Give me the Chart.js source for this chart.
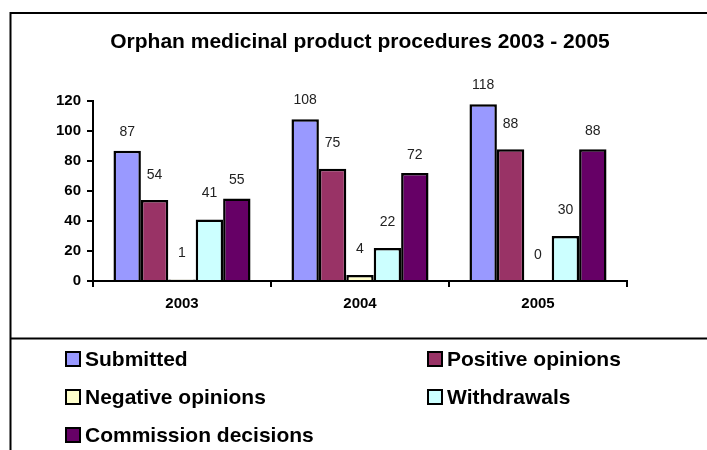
<!DOCTYPE html>
<html lang="en">
<head>
	<title>Orphan medicinal product procedures 2003 - 2005</title>
	<meta charset="utf-8">
	<script src="https://cdn.jsdelivr.net/npm/chart.js@4.4.1/dist/chart.umd.min.js"></script>
	<style type="text/css">
		body { margin: 0; background: #fff; }
		canvas { display: block; }
	</style>
</head>
<body>
<canvas id="orphan-canvas" width="707" height="450"></canvas>
<script type="text/javascript">
	// data
	var years = ["2003", "2004", "2005"];
	var submitted = [87, 108, 118];
	var positiveOpinions = [54, 75, 88];
	var negativeOpinions = [1, 4, 0];
	var withdrawals = [41, 22, 30];
	var commissionDecisions = [55, 72, 88];
	var yTicks = [0, 20, 40, 60, 80, 100, 120];

	var fontFamily = "'Liberation Sans', Arial, sans-serif";

	// bar style: black outline, no bottom edge
	function barStyle(label, data, color, labelGap) {
		return {
			label: label,
			data: data,
			backgroundColor: color,
			borderColor: "#000",
			borderWidth: 2.5,
			borderSkipped: "start",
			inflateAmount: 0,
			labelGap: labelGap
		};
	}

	// frame lines round the chart and the legend
	var framePlugin = {
		id: "frame",
		beforeDraw: function(chart) {
			var ctx = chart.ctx;
			ctx.save();
			ctx.strokeStyle = "#000";
			ctx.lineWidth = 2;
			ctx.beginPath();
			ctx.moveTo(10.5, 450);
			ctx.lineTo(10.5, 13);
			ctx.lineTo(707, 13);
			ctx.moveTo(10.5, 338.5);
			ctx.lineTo(707, 338.5);
			ctx.stroke();
			ctx.restore();
		}
	};

	// value labels above the bars
	var valueLabelPlugin = {
		id: "valueLabels",
		afterDatasetsDraw: function(chart) {
			var ctx = chart.ctx;
			ctx.save();
			ctx.font = "14px " + fontFamily;
			ctx.fillStyle = "#222";
			ctx.textAlign = "center";
			ctx.textBaseline = "middle";
			chart.data.datasets.forEach(function(ds, i) {
				chart.getDatasetMeta(i).data.forEach(function(bar, j) {
					ctx.fillText(String(ds.data[j]), bar.x, bar.y - ds.labelGap);
				});
			});
			ctx.restore();
		}
	};

	// two column legend under the chart
	var legendPlugin = {
		id: "gridLegend",
		afterDraw: function(chart) {
			var ctx = chart.ctx;
			var colX = [65, 427];
			var rowY = [359, 397, 435];
			ctx.save();
			ctx.font = "bold 21px " + fontFamily;
			ctx.textBaseline = "middle";
			ctx.textAlign = "left";
			chart.data.datasets.forEach(function(ds, i) {
				var x = colX[i % 2];
				var y = rowY[Math.floor(i / 2)];
				ctx.fillStyle = ds.backgroundColor;
				ctx.fillRect(x + 1, y - 7, 14, 14);
				ctx.strokeStyle = "#000";
				ctx.lineWidth = 2;
				ctx.strokeRect(x + 1, y - 7, 14, 14);
				ctx.fillStyle = "#000";
				ctx.fillText(ds.label, x + 20, y + 1);
			});
			ctx.restore();
		}
	};

	var barChartData = {
		labels: years,
		datasets: [
			barStyle("Submitted", submitted, "#9999FF", 19),
			barStyle("Positive opinions", positiveOpinions, "#993366", 25),
			barStyle("Negative opinions", negativeOpinions, "#FFFFCC", 26),
			barStyle("Withdrawals", withdrawals, "#CCFFFF", 26),
			barStyle("Commission decisions", commissionDecisions, "#660066", 18)
		]
	};

	var ctx = document.querySelector("#orphan-canvas").getContext("2d");
	var orphanChart = new Chart(ctx, {
		type: "bar",
		data: barChartData,
		plugins: [framePlugin, valueLabelPlugin, legendPlugin],
		options: {
			responsive: false,
			animation: false,
			devicePixelRatio: 1,
			layout: {
				padding: { left: 10, right: 80, top: 15, bottom: 112 }
			},
			datasets: {
				bar: { categoryPercentage: 0.77, barPercentage: 1.0 }
			},
			plugins: {
				legend: { display: false },
				tooltip: { enabled: false },
				title: {
					display: true,
					fullSize: false,
					text: "Orphan medicinal product procedures 2003 - 2005",
					color: "#000",
					font: { family: fontFamily, size: 21, weight: "bold", lineHeight: 1.2 },
					padding: { top: 15, bottom: 46 }
				}
			},
			scales: {
				x: {
					afterFit: function(scale) { scale.height = 57; },
					grid: {
						offset: true,
						drawOnChartArea: false,
						drawTicks: true,
						tickLength: 6,
						color: "#000",
						lineWidth: 2
					},
					border: { display: true, color: "#000", width: 2 },
					ticks: {
						color: "#000",
						padding: 8,
						font: { family: fontFamily, size: 15, weight: "bold" }
					}
				},
				y: {
					min: 0,
					max: 120,
					afterFit: function(scale) { scale.width = 83; },
					afterBuildTicks: function(scale) {
						scale.ticks = yTicks.map(function(v) { return { value: v }; });
					},
					grid: {
						drawOnChartArea: false,
						drawTicks: true,
						tickLength: 6,
						color: "#000",
						lineWidth: 2
					},
					border: { display: true, color: "#000", width: 2 },
					ticks: {
						color: "#000",
						padding: 6,
						font: { family: fontFamily, size: 15, weight: "bold" }
					}
				}
			}
		}
	});
</script>
</body>
</html>
